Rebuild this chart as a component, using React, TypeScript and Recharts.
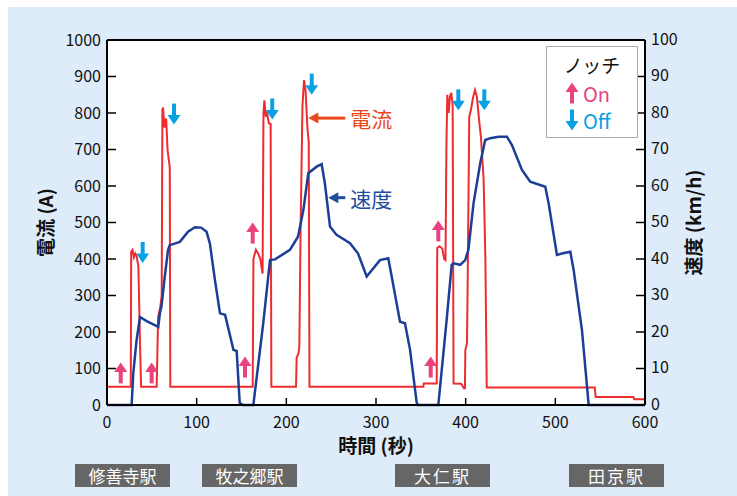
import React from "react";
import {
  ComposedChart,
  Line,
  XAxis,
  YAxis,
  CartesianGrid,
  ReferenceDot,
  ReferenceLine,
} from "recharts";

// current (A) over time (s)
const currentTime = [
  0, 26.5, 27, 28.5, 30, 31.5, 33, 35, 37, 38,
  55.4, 57, 59.5, 61, 61.8, 62.5, 64, 66, 67.5, 70, 70.6,
  162.5, 163.3, 166, 168.5, 171, 173.5, 174.5, 175.5, 177, 178.5, 180.5, 182.5, 183.3,
  210.8, 211.5, 213.5, 214.5, 216, 218, 219.7, 221.5, 223.5, 225, 225.8,
  352.8, 353.3, 367.7, 368.3, 371, 374, 376, 377.5, 378.5, 379.5, 381, 382.5, 384, 385.5, 386.5,
  395, 398, 399.2, 399.6, 401.5, 402.5, 404, 406, 408, 410.4, 412.5, 415, 417, 420, 422, 423.5,
  544, 545, 587, 588, 600,
];
const currentAmp = [
  50, 50, 420, 425, 405, 415, 408, 380, 150, 50,
  50, 240, 270, 300, 810, 815, 760, 785, 700, 650, 50,
  50, 400, 425, 415, 400, 360, 800, 835, 790, 800, 772, 770, 50,
  50, 130, 141, 160, 500, 820, 890, 860, 760, 720, 50,
  50, 59, 59, 430, 435, 428, 400, 397, 700, 850, 800, 845, 855, 820, 59,
  58, 46, 46, 150, 170, 400, 790, 810, 840, 863, 845, 780, 735, 620, 400, 48,
  48, 22, 22, 16, 16,
];

// speed (km/h) over time (s)
const speedTime = [
  0, 27.5, 29.3, 33, 36.8, 44.2, 57.2, 59, 60.7, 64.4, 68.1, 70, 81.2, 90.4, 98, 105, 111,
  114.7, 120.4, 126, 131.7, 141, 144.6, 148, 151.6,
  163.2, 170.6, 174.3, 181.8, 187.4, 204, 213, 219, 224.5, 233.8, 239.4, 243, 248.7, 256,
  271, 280, 289.6, 304.4, 313.7, 317.5, 326.8, 332.3, 338, 345.4, 347,
  369.5, 378.8, 384.4, 386.4, 393.9, 399.5, 403, 408.8, 416.2, 421.8, 427.4, 436.7, 446,
  451.6, 462.8, 472, 488.8, 492.5, 501.8, 507.4, 516.7, 520.4, 529.7, 537.2, 600,
];
const speedKmh = [
  0, 0, 8.7, 17.8, 24.1, 23, 21.4, 25.2, 26.9, 35.2, 42.5, 43.8, 44.7, 47.5, 48.7, 48.6, 47.5,
  44.3, 34.2, 25.1, 24.7, 15.1, 14.8, 0.6, 0,
  0, 15, 22.5, 39.7, 39.9, 42.5, 46.1, 53.4, 63.5, 65.3, 66, 60.7, 48.9, 46.6,
  44.3, 41.5, 35.2, 39.7, 40.2, 35.2, 22.8, 22.4, 15.1, 0.6, 0,
  0, 23.3, 38.4, 38.8, 38.4, 39.7, 42.5, 55.3, 66.2, 72.6, 73.1, 73.5, 73.5,
  71.2, 64.4, 61.2, 59.8, 55.3, 41.1, 41.5, 42, 37, 20.5, 0, 0,
];

// notch markers (time s, current A)
const notchOnTime = [15.3, 49.8, 153.9, 162.5, 361, 369.5];
const notchOnAmp = [88, 88, 104, 471, 104, 477];
const notchOffTime = [39.8, 74.7, 184.3, 228.3, 391.8, 420.8];
const notchOffAmp = [418, 797, 811, 879, 836, 836];

const timeTicks = [0, 100, 200, 300, 400, 500, 600];
const currentTicks = [0, 100, 200, 300, 400, 500, 600, 700, 800, 900, 1000];
const speedTicks = [0, 10, 20, 30, 40, 50, 60, 70, 80, 90, 100];
const stations = ["修善寺駅", "牧之郷駅", "大仁駅", "田京駅"];

const currentData = currentTime.map((t, i) => ({ t, v: currentAmp[i] }));
const speedData = speedTime.map((t, i) => ({ t, v: speedKmh[i] }));

const RED = "#ee2b2e";
const BLUE = "#1d3e96";
const PINK = "#e9427f";
const CYAN = "#0aa0e4";
const FONT = "'Noto Sans CJK JP', 'Noto Sans', sans-serif";

const UpArrow = ({ cx, cy, color = PINK }: any) => (
  <g>
    <rect x={cx - 2} y={cy - 2} width={4} height={12.5} fill={color} />
    <polygon points={`${cx},${cy - 10.5} ${cx - 6.5},${cy - 1} ${cx + 6.5},${cy - 1}`} fill={color} />
  </g>
);

const DownArrow = ({ cx, cy, color = CYAN }: any) => (
  <g>
    <rect x={cx - 2} y={cy - 10.5} width={4} height={12.5} fill={color} />
    <polygon points={`${cx},${cy + 10.5} ${cx - 6.5},${cy + 1} ${cx + 6.5},${cy + 1}`} fill={color} />
  </g>
);

const Pointer = ({ cx, cy, len, color, text }: any) => (
  <g>
    <line x1={cx + 8} y1={cy} x2={cx + len} y2={cy} stroke={color} strokeWidth={3} />
    <polygon points={`${cx},${cy} ${cx + 10},${cy - 5.5} ${cx + 10},${cy + 5.5}`} fill={color} />
    <text x={cx + len + 5} y={cy} fill={color} fontSize={21} fontFamily={FONT} dominantBaseline="central">
      {text}
    </text>
  </g>
);

const axisTitle = (text: string, cx: number) => (props: any) => {
  const vb = props.viewBox;
  const cy = vb.y + vb.height / 2;
  return (
    <text
      x={cx}
      y={cy}
      transform={`rotate(-90 ${cx} ${cy})`}
      textAnchor="middle"
      dominantBaseline="central"
      fontSize={19}
      fontWeight="bold"
      fontFamily={FONT}
      fill="#111"
    >
      {text}
    </text>
  );
};

const tickStyle = { fontSize: 16, fill: "#111", fontFamily: FONT };

export default function App() {
  return (
    <div style={{ position: "absolute", left: 0, top: 0, width: 737, height: 496, background: "#fff", fontFamily: FONT }}>
      <div style={{ position: "absolute", left: 8, top: 7, width: 729, height: 489, background: "#deebf9" }} />
      <div style={{ position: "absolute", left: 0, top: 0 }}>
        <ComposedChart width={737} height={496} margin={{ top: 40, right: 0, bottom: 0, left: 0 }}>
          <CartesianGrid horizontal={false} vertical={false} fill="#fff" />
          <XAxis
            dataKey="t"
            type="number"
            domain={[0, 600]}
            ticks={timeTicks}
            height={91}
            tickSize={-7}
            tickMargin={19}
            tick={tickStyle}
            axisLine={{ stroke: "#000", strokeWidth: 2 }}
            tickLine={{ stroke: "#000", strokeWidth: 1.5 }}
            allowDuplicatedCategory={false}
          />
          <YAxis
            yAxisId="left"
            domain={[0, 1000]}
            ticks={currentTicks}
            width={107}
            tickSize={-9}
            tickMargin={15}
            tick={tickStyle}
            axisLine={{ stroke: "#000", strokeWidth: 2 }}
            tickLine={{ stroke: "#000", strokeWidth: 1.5 }}
            label={{ content: axisTitle("電流 (A)", 44) }}
          />
          <YAxis
            yAxisId="right"
            orientation="right"
            domain={[0, 100]}
            ticks={speedTicks}
            width={92}
            tickSize={-9}
            tickMargin={15}
            tick={{ ...tickStyle, dy: -1 }}
            axisLine={{ stroke: "#000", strokeWidth: 2 }}
            tickLine={{ stroke: "#000", strokeWidth: 1.5 }}
            label={{ content: axisTitle("速度 (km/h)", 692) }}
          />
          <ReferenceLine yAxisId="left" y={1000} stroke="#000" strokeWidth={2} />
          <Line
            yAxisId="left"
            data={currentData}
            dataKey="v"
            type="linear"
            stroke={RED}
            strokeWidth={2}
            dot={false}
            isAnimationActive={false}
          />
          <Line
            yAxisId="right"
            data={speedData}
            dataKey="v"
            type="linear"
            stroke={BLUE}
            strokeWidth={2.5}
            dot={false}
            isAnimationActive={false}
          />
          {notchOnTime.map((t, i) => (
            <ReferenceDot
              key={"on" + i}
              yAxisId="left"
              x={t}
              y={notchOnAmp[i]}
              r={1}
              shape={(p: any) => <UpArrow cx={p.cx} cy={p.cy} />}
            />
          ))}
          {notchOffTime.map((t, i) => (
            <ReferenceDot
              key={"off" + i}
              yAxisId="left"
              x={t}
              y={notchOffAmp[i]}
              r={1}
              shape={(p: any) => <DownArrow cx={p.cx} cy={p.cy} />}
            />
          ))}
          <ReferenceDot
            yAxisId="left"
            x={224.5}
            y={786}
            r={1}
            shape={(p: any) => <Pointer cx={p.cx} cy={p.cy} len={37} color="#e8481c" text="電流" />}
          />
          <ReferenceDot
            yAxisId="right"
            x={246.8}
            y={56.8}
            r={1}
            shape={(p: any) => <Pointer cx={p.cx} cy={p.cy} len={17} color="#1f4e9c" text="速度" />}
          />
        </ComposedChart>
      </div>
      {/* x axis title */}
      <div
        style={{
          position: "absolute",
          left: 276,
          width: 200,
          top: 431,
          textAlign: "center",
          fontSize: 19,
          fontWeight: "bold",
          lineHeight: "28px",
          color: "#111",
        }}
      >
        時間 (秒)
      </div>
      {/* legend */}
      <div
        style={{
          position: "absolute",
          left: 546,
          top: 46,
          width: 90,
          height: 90,
          border: "1px solid #aaa",
          background: "#fff",
        }}
      >
        <div style={{ textAlign: "center", fontSize: 19, lineHeight: "22px", marginTop: 7, color: "#111" }}>ノッチ</div>
        <div style={{ display: "flex", alignItems: "center", marginLeft: 17, marginTop: 5, height: 24 }}>
          <svg width={16} height={24}>
            <UpArrow cx={8} cy={12} />
          </svg>
          <span style={{ color: PINK, fontSize: 20, marginLeft: 3 }}>On</span>
        </div>
        <div style={{ display: "flex", alignItems: "center", marginLeft: 17, marginTop: 3, height: 24 }}>
          <svg width={16} height={24}>
            <DownArrow cx={8} cy={12} />
          </svg>
          <span style={{ color: CYAN, fontSize: 20, marginLeft: 3 }}>Off</span>
        </div>
      </div>
      {/* stations */}
      {stations.map((s, i) => (
        <div
          key={s}
          style={{
            position: "absolute",
            left: [75, 202, 395, 569][i],
            top: 464,
            width: 95,
            height: 23,
            background: "#666",
            color: "#fff",
            fontSize: 17,
            lineHeight: "23px",
            textAlign: "center",
            letterSpacing: s.length === 3 ? 2 : 0,
          }}
        >
          {s}
        </div>
      ))}
    </div>
  );
}
